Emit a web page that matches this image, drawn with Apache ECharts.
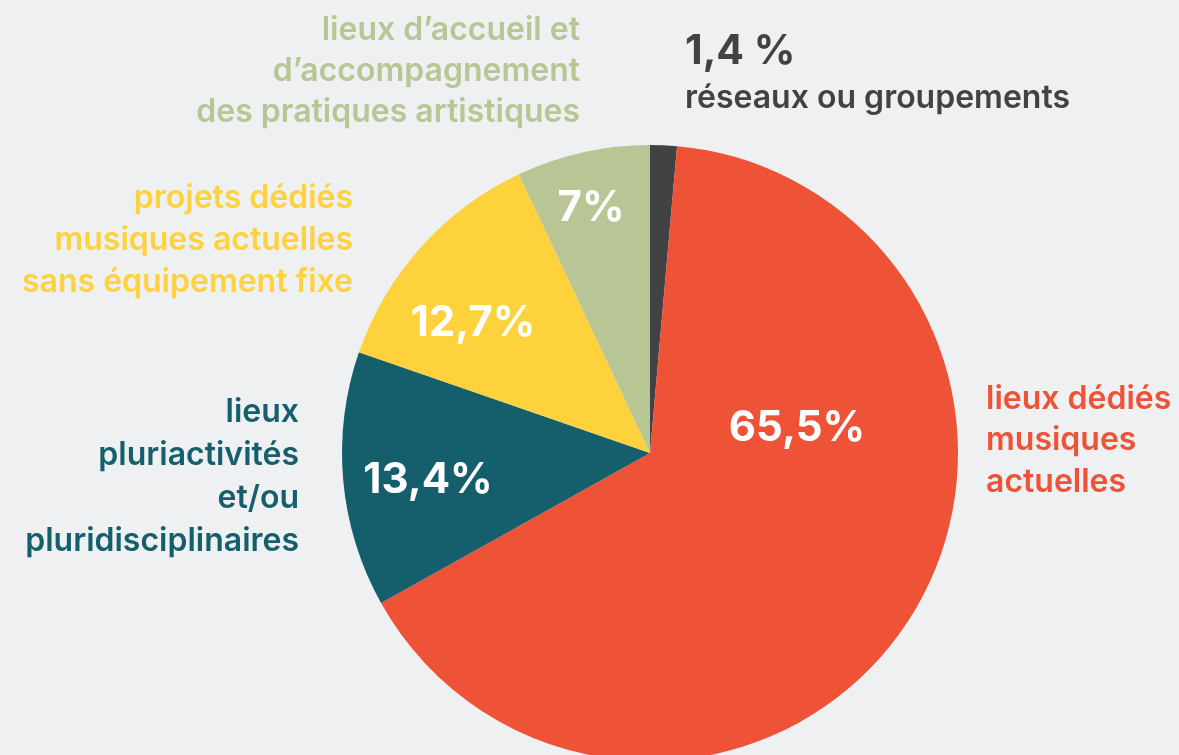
<!DOCTYPE html>
<html><head><meta charset="utf-8">
<script src="https://cdn.jsdelivr.net/npm/echarts@6/dist/echarts.min.js"></script>
<style>html,body{margin:0;padding:0;background:#eef0f2}#c{width:1179px;height:755px}</style>
</head><body><div id="c"></div>
<script>
const categories = ["réseaux ou groupements","lieux dédiés musiques actuelles","lieux pluriactivités et/ou pluridisciplinaires","projets dédiés musiques actuelles sans équipement fixe","lieux d’accueil et d’accompagnement des pratiques artistiques"];
const values = [1.4, 65.5, 13.4, 12.7, 7];
const valueLabels = ["1,4 %","65,5%","13,4%","12,7%","7%"];
const colors = ["#414243","#ee5237","#155f6c","#fed23c","#b8c594"];
const outsideLines = [
  ["réseaux ou groupements"],
  ["lieux dédiés","musiques","actuelles"],
  ["lieux","pluriactivités","et/ou","pluridisciplinaires"],
  ["projets dédiés","musiques actuelles","sans équipement fixe"],
  ["lieux d’accueil et","d’accompagnement","des pratiques artistiques"]
];
const FONT = 'Inter, "Open Sans", sans-serif';
const chart = echarts.init(document.getElementById('c'));
const g = [];
const inPos = [null,[797,428],[428,480],[473,323],[591,208]];
inPos.forEach((p,i)=>{ if(!p) return;
  g.push({type:'text', position:p, style:{text:valueLabels[i], fill:'#fff', font:'bold 42px '+FONT, align:'center', verticalAlign:'middle'}, z:10});
});
function block(i, x, yStart, lh, align){
  outsideLines[i].forEach((t,k)=>{
    g.push({type:'text', position:[x, yStart + k*lh], style:{text:t, fill:colors[i], font:'600 32px '+FONT, align:align, verticalAlign:'middle'}, z:10});
  });
}
block(4, 580, 30, 41, 'right');
block(3, 353, 198, 42, 'right');
block(2, 299, 412, 43, 'right');
block(1, 986, 399, 41.5, 'left');
g.push({type:'text', position:[685,52], style:{text:valueLabels[0], fill:colors[0], font:'bold 41px '+FONT, align:'left', verticalAlign:'middle'}, z:10});
g.push({type:'text', position:[685,98], style:{text:outsideLines[0][0], fill:colors[0], font:'600 32px '+FONT, align:'left', verticalAlign:'middle'}, z:10});
chart.setOption({
  backgroundColor:'#eef0f2',
  animation:false,
  series:[{type:'pie', center:[650,453], radius:[0,308], startAngle:90, clockwise:true,
    label:{show:false}, labelLine:{show:false}, emphasis:{disabled:true},
    data: values.map((v,i)=>({name:categories[i], value:v, itemStyle:{color:colors[i]}}))
  }],
  graphic:g
});
</script></body></html>
